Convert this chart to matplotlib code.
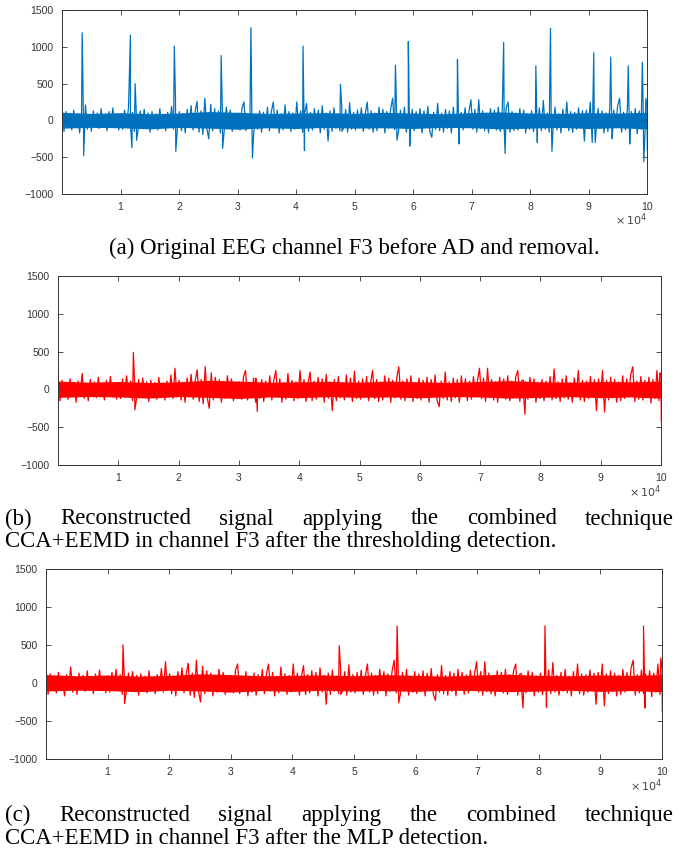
import numpy as np
import matplotlib.pyplot as plt

# background EEG activity, 30 samples per 1e4
noise = [
    200, -150, 120, -90, 60, -130, 140, -60, 90, -170, 110, -40, 210, -120, 80, -150, 130, -70, 100, -110, 160, -90, 50, -140, 120, -60, 170, -100, 80, -130,
    90, -120, 140, -80, 180, -60, 110, -150, 70, -110, 130, -90, 150, -70, 100, -160, 120, -50, 90, -130, 160, -100, 60, -140, 110, -80, 190, -120, 280, -100,
    120, -140, 90, -170, 150, -80, 200, -130, 110, 260, -160, 130, -190, 300, -110, -250, 220, -140, 160, -90, 130, -170, 100, -120, 180, -60, 140, -150, 90, -110,
    100, -130, 170, 250, -140, 90, -110, 150, -170, 80, -120, 130, -160, 110, -90, 180, -140, 120, 250, -100, 140, -170, 90, -130, 210, -80, 120, -150, 100, -120,
    250, -110, 130, -160, 90, 230, -150, 110, -130, 160, -90, 140, -170, 200, -120, 100, -280, 130, -150, 170, -110, 90, -140, 190, -100, 150, -160, 240, -120, 110,
    -130, 140, -100, 170, -150, 90, 250, -120, 130, -160, 100, -140, 180, -90, 150, -170, 120, -110, 160, 300, -130, 110, -150, 140, -100, 180, -160, 90, -120, 150,
    -140, 120, -100, 160, -170, 130, -90, 190, -150, -230, 110, -120, 230, -140, 100, -160, 150, -110, 130, -170, 180, -90, 140, -150, 110, -130, 170, -100, 120, 280,
    -120, 150, -160, 280, -110, 130, -140, 100, -170, 160, -90, 140, -130, 180, -150, 110, -100, 170, 250, -160, 120, -140, 100, -130, 160, -110, 140, -170, 90, -120,
    130, -150, 110, -90, 170, -140, 270, -120, 100, -160, 140, -110, 180, -130, 90, -170, 150, -100, 250, -140, 120, -160, 110, -120, 170, -90, 130, -280, 140, -110,
    250, -300, 120, -140, 160, -110, 130, -170, 100, -150, 180, -120, 140, -90, 200, 300, -160, 110, -130, 170, -140, 120, -100, 160, -180, 130, -120, 250, -150, 200,
]

# dense core of the band, one value per 5e3 (0 .. 10e4)
core_upper = [110, 95, 105, 90, 100, 120, 110, 95, 100, 105, 95, 110, 100, 90, 105, 115, 100, 95, 105, 100, 110]
core_lower = [-105, -95, -100, -115, -95, -105, -120, -100, -110, -95, -105, -100, -110, -95, -100, -115, -105, -95, -110, -100, -115]

# artifacts: position, peak, following trough
spikes_a_x = [3450, 11700, 12500, 19200, 27200, 32300, 41200, 47600, 57000, 59200, 67600,
              75500, 81000, 83500, 90900, 93800, 96800, 99200, 99800]
spikes_a_peak = [1190, 1160, 500, 1010, 880, 1260, 1010, 490, 750, 1070, 830,
                 1060, 740, 1250, 920, 860, 740, 790, 300]
spikes_a_trough = [-480, -370, -270, -420, -380, -510, -410, -150, -270, -350, -320,
                   -450, -300, -420, -300, -250, -320, -560, -400]

spikes_b_x = [12500, 32800, 77200, 99800]
spikes_b_peak = [490, 150, 120, 220]
spikes_b_trough = [-270, -290, -330, -420]

spikes_c_x = [12500, 47600, 57000, 77200, 81000, 97000, 99800]
spikes_c_peak = [500, 490, 750, 120, 750, 750, 330]
spikes_c_trough = [-270, -150, -260, -330, -320, -330, -380]

xtick_vals = [10000, 20000, 30000, 40000, 50000, 60000, 70000, 80000, 90000, 100000]
xtick_labels = ["1", "2", "3", "4", "5", "6", "7", "8", "9", "10"]
ytick_vals = [-1000, -500, 0, 500, 1000, 1500]


def build(sx, sp, st):
    x = list(np.linspace(0, 100000, len(noise)))
    y = list(noise)
    for a, p, t in zip(sx, sp, st):
        x += [a, a + 250]
        y += [p, t]
    order = np.argsort(x, kind="stable")
    return np.array(x)[order], np.array(y)[order]


W, H = 688, 855
fig = plt.figure(figsize=(W / 100, H / 100), dpi=100)
plt.rcParams["font.family"] = "Liberation Sans"


def make_axes(l, r, t, b):
    ax = fig.add_axes([l / W, 1 - b / H, (r - l) / W, (b - t) / H])
    ax.set_xlim(0, 100000)
    ax.set_ylim(-1000, 1500)
    ax.set_xticks(xtick_vals)
    ax.set_xticklabels(xtick_labels)
    ax.set_yticks(ytick_vals)
    ax.tick_params(direction="in", top=True, right=True, length=3.5, width=0.6,
                   labelsize=7.5, labelcolor="#333333", color="#333333", pad=6)
    for s in ax.spines.values():
        s.set_color("#333333")
        s.set_linewidth(0.7)
    ax.text(1.0, -0.14, r"$\times\,10^4$", transform=ax.transAxes, ha="right",
            va="center", fontsize=8, color="#444444")
    return ax


def draw(ax, sx, sp, st, color):
    cx = np.linspace(0, 100000, len(core_upper))
    ax.fill_between(cx, core_lower, core_upper, color=color, lw=0)
    x, y = build(sx, sp, st)
    ax.plot(x, y, color=color, lw=0.9)


ax1 = make_axes(62, 647, 10, 194)
draw(ax1, spikes_a_x, spikes_a_peak, spikes_a_trough, "#0072BD")

ax2 = make_axes(58, 661, 276, 465)
draw(ax2, spikes_b_x, spikes_b_peak, spikes_b_trough, "#FF0000")

ax3 = make_axes(46, 662, 569, 759)
draw(ax3, spikes_c_x, spikes_c_peak, spikes_c_trough, "#FF0000")

# captions
cap_font = dict(family="Liberation Serif", size=16.5, color="black")
renderer = fig.canvas.get_renderer()


def justified(line, y_px, x0=5, x1=674):
    words = line.split()
    texts = [fig.text(0, 1 - y_px / H, w, va="center", ha="left", **cap_font) for w in words]
    widths = [t.get_window_extent(renderer).width for t in texts]
    gap = (x1 - x0 - sum(widths)) / (len(words) - 1)
    pos = x0
    for t, w in zip(texts, widths):
        t.set_x(pos / W)
        pos += w + gap


fig.text(354 / W, 1 - 248 / H, "(a) Original EEG channel F3 before AD and removal.",
         ha="center", va="center", **cap_font)
justified("(b) Reconstructed signal applying the combined technique", 519)
fig.text(5 / W, 1 - 542 / H, "CCA+EEMD in channel F3 after the thresholding detection.",
         ha="left", va="center", **cap_font)
justified("(c) Reconstructed signal applying the combined technique", 815)
fig.text(5 / W, 1 - 838 / H, "CCA+EEMD in channel F3 after the MLP detection.",
         ha="left", va="center", **cap_font)

fig.savefig("out.png", dpi=100)
